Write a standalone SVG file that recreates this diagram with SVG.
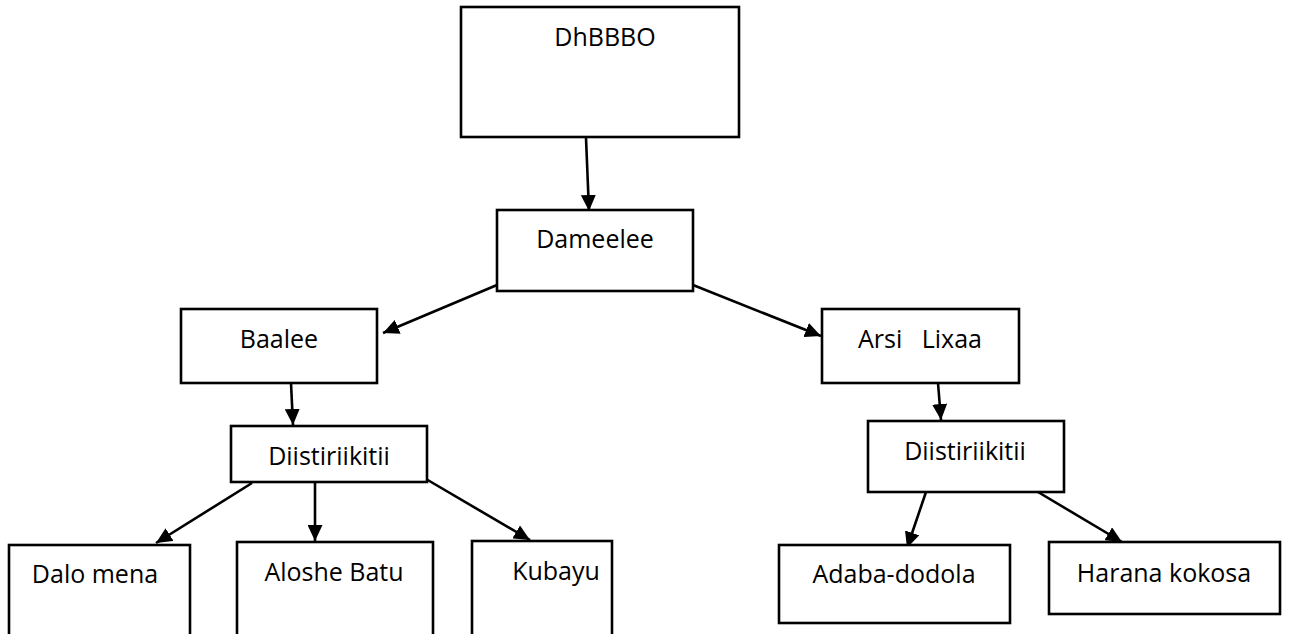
<svg xmlns="http://www.w3.org/2000/svg" width="1289" height="634" viewBox="0 0 1289 634">
<style>
.box{fill:#fff;stroke:#000;stroke-width:2.6}
.lbl{font-family:"Open Sans","Liberation Sans",sans-serif;font-size:25px;fill:#000;text-anchor:middle;white-space:pre}
.con{stroke:#000;stroke-width:2.6;fill:none;marker-end:url(#arr)}
</style>
<defs>
<marker id="arr" markerUnits="userSpaceOnUse" markerWidth="17" markerHeight="15" refX="16" refY="7.5" orient="auto">
<path d="M0,0 L16,7.5 L0,15 Z" fill="#000"/>
</marker>
</defs>
<rect width="1289" height="634" fill="#fff"/>
<g id="connectors">
<line class="con" x1="586" y1="138" x2="589" y2="211"/>
<line class="con" x1="497" y1="285" x2="383" y2="333"/>
<line class="con" x1="693" y1="285" x2="821" y2="336"/>
<line class="con" x1="291" y1="383" x2="293" y2="425"/>
<line class="con" x1="938" y1="383" x2="941" y2="420"/>
<line class="con" x1="252" y1="483" x2="156" y2="543"/>
<line class="con" x1="315" y1="478" x2="315" y2="541"/>
<line class="con" x1="426" y1="479" x2="530" y2="540"/>
<line class="con" x1="926" y1="492" x2="907" y2="548"/>
<line class="con" x1="1038" y1="492" x2="1122" y2="542"/>
</g>
<g id="n-dhbbbo"><rect class="box" x="461" y="7" width="278" height="130"/><text class="lbl" x="605" y="46">DhBBBO</text></g>
<g id="n-dameelee"><rect class="box" x="497" y="210" width="196" height="81"/><text class="lbl" x="595" y="248">Dameelee</text></g>
<g id="n-baalee"><rect class="box" x="181" y="309" width="196" height="74"/><text class="lbl" x="279" y="348">Baalee</text></g>
<g id="n-arsi"><rect class="box" x="822" y="309" width="197" height="74"/><text class="lbl" x="920" y="348">Arsi   Lixaa</text></g>
<g id="n-diis-left"><rect class="box" x="231" y="426" width="196" height="56"/><text class="lbl" x="329" y="465">Diistiriikitii</text></g>
<g id="n-diis-right"><rect class="box" x="868" y="421" width="196" height="71"/><text class="lbl" x="965" y="460">Diistiriikitii</text></g>
<g id="n-dalo"><rect class="box" x="9" y="545" width="181" height="95"/><text class="lbl" x="95" y="583">Dalo mena</text></g>
<g id="n-aloshe"><rect class="box" x="237" y="542" width="196" height="98"/><text class="lbl" x="334" y="581">Aloshe Batu</text></g>
<g id="n-kubayu"><rect class="box" x="472" y="541" width="140" height="99"/><text class="lbl" x="556" y="580">Kubayu</text></g>
<g id="n-adaba"><rect class="box" x="779" y="545" width="231" height="78"/><text class="lbl" x="894" y="583">Adaba-dodola</text></g>
<g id="n-harana"><rect class="box" x="1049" y="542" width="231" height="72"/><text class="lbl" x="1164" y="582">Harana kokosa</text></g>
</svg>
